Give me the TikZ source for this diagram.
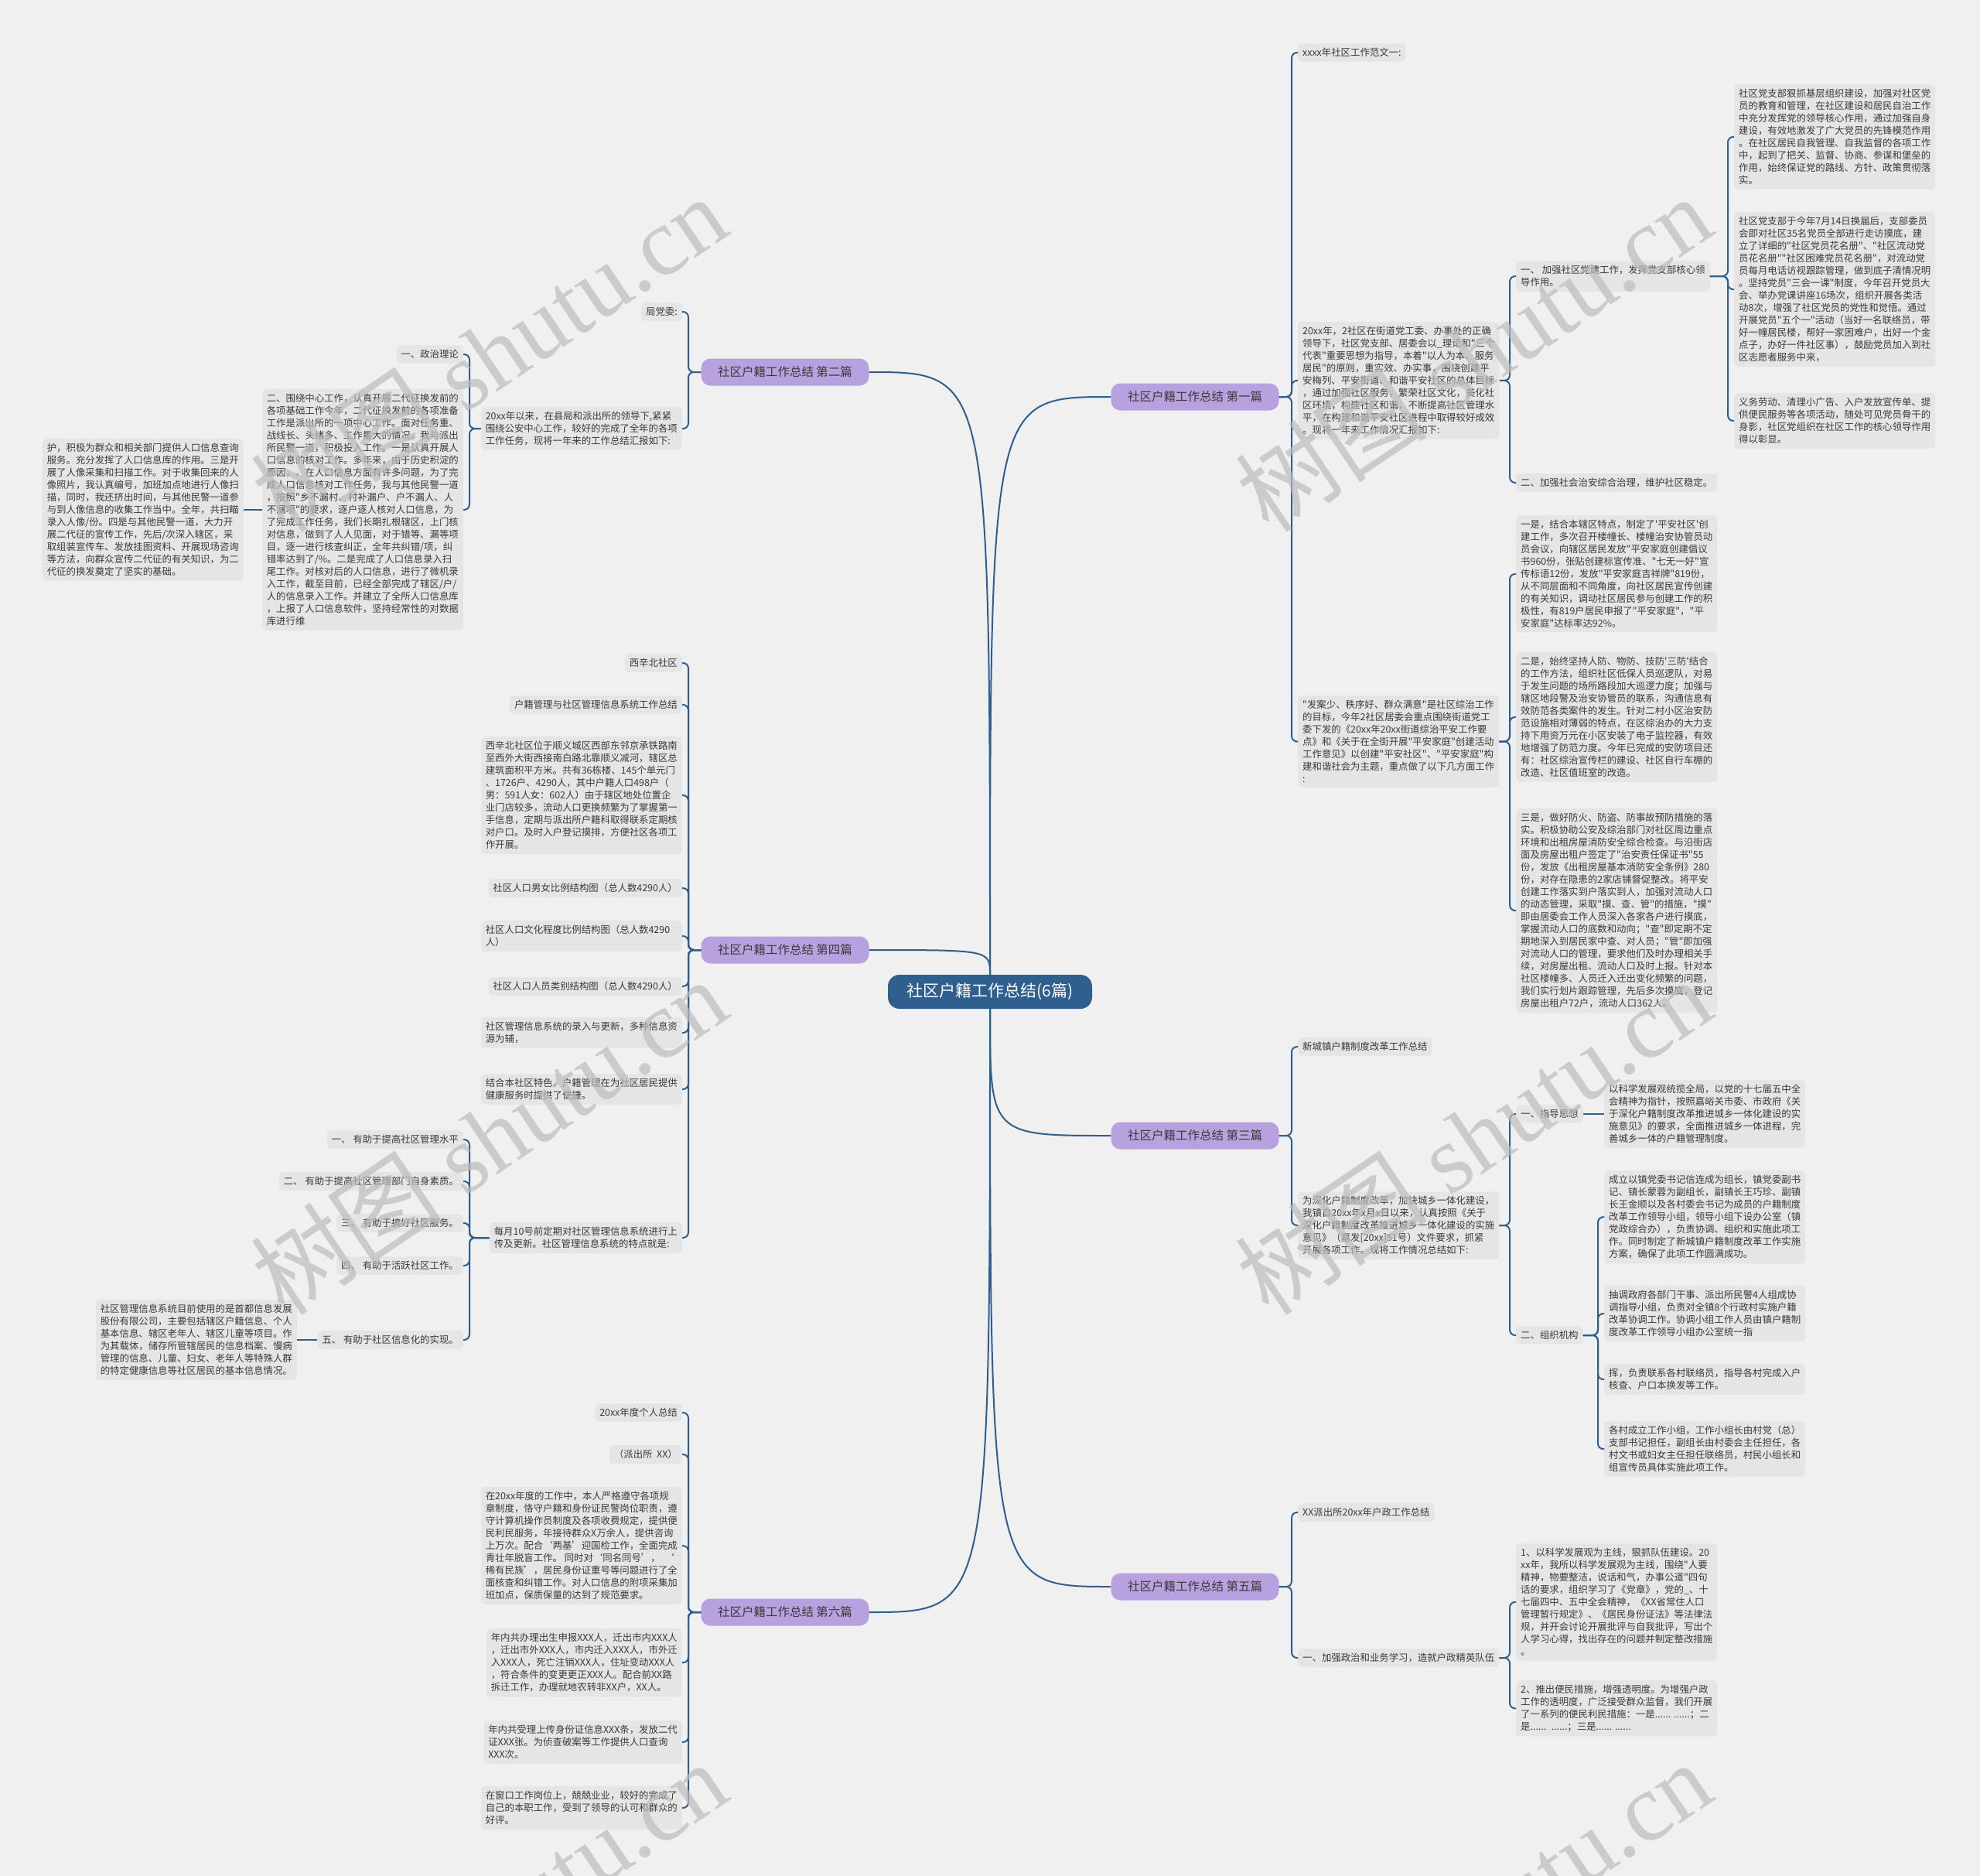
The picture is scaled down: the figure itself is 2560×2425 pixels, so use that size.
\documentclass[tikz,border=0pt]{standalone}
\usepackage{fontspec}
\setmainfont{Noto Sans CJK SC}[Ligatures=TeXOff]
\newfontfamily\wmserif{Liberation Serif}
\usepackage{xcolor}
\usepackage{tikz}
\usetikzlibrary{positioning}
\definecolor{bgcol}{HTML}{F0F0F0}
\definecolor{leafcol}{HTML}{E5E5E5}
\definecolor{rootcol}{HTML}{2F5F8E}
\definecolor{branchcol}{HTML}{B7A1DE}
\definecolor{linecol}{HTML}{2F5F8E}
\definecolor{txtcol}{HTML}{3A3A3A}
\definecolor{wmcol}{HTML}{BCBCBC}

\begin{document}
\begin{tikzpicture}[x=1pt,y=-1pt,
  rootnode/.style={fill=rootcol, text=white, rounded corners=15pt, minimum width=264pt, minimum height=44pt, font=\fontsize{21}{25}\selectfont},
  branch/.style={fill=branchcol, text=txtcol, rounded corners=12pt, minimum width=217pt, minimum height=35pt, font=\fontsize{15.5}{18}\selectfont},
  leaf/.style={fill=leafcol, text=txtcol, rounded corners=5pt, inner xsep=6pt, inner ysep=6pt, align=left, font=\fontsize{12.4}{16}\selectfont},
  link/.style={draw=linecol, line width=2pt, rounded corners=7pt},
  wm/.style={text=wmcol, opacity=0.7, rotate=34, anchor=base west, inner sep=0pt, font=\fontsize{125}{125}\selectfont}]

  \useasboundingbox (0,0) rectangle (2560,2425);
  \fill[bgcol] (0,0) rectangle (2560,2425);

  %% root and branches
  \node[rootnode] (root) at (1280,1282) {社区户籍工作总结(6篇)};
  \node[branch] (p1) at (1545,513) {社区户籍工作总结 第一篇};
  \node[branch] (p2) at (1015,481) {社区户籍工作总结 第二篇};
  \node[branch] (p3) at (1545,1468) {社区户籍工作总结 第三篇};
  \node[branch] (p4) at (1015,1228) {社区户籍工作总结 第四篇};
  \node[branch] (p5) at (1545,2051) {社区户籍工作总结 第五篇};
  \node[branch] (p6) at (1015,2084) {社区户籍工作总结 第六篇};

  \draw[link] (root.north) .. controls (root.north |- p1.west) .. (p1.west);
  \draw[link] (root.north) .. controls (root.north |- p2.east) .. (p2.east);
  \draw[link] (root.north) .. controls (root.north |- p4.east) .. (p4.east);
  \draw[link] (root.south) .. controls (root.south |- p3.west) .. (p3.west);
  \draw[link] (root.south) .. controls (root.south |- p5.west) .. (p5.west);
  \draw[link] (root.south) .. controls (root.south |- p6.east) .. (p6.east);

  %% 第一篇
  \node[leaf, anchor=west] (p1a) at (1678,68) {xxxx年社区工作范文一:};
  \node[leaf, anchor=north west] (p1b) at (1678,416) {20xx年，2社区在街道党工委、办事处的正确\\领导下，社区党支部、居委会以\_理论和"三个\\代表"重要思想为指导，本着"以人为本、服务\\居民"的原则，重实效、办实事，围绕创建平\\安梅列、平安街道、和谐平安社区的总体目标\\，通过加强社区服务，繁荣社区文化，美化社\\区环境，构建社区和谐，不断提高社区管理水\\平，在构建和谐平安社区进程中取得较好成效\\。现将一年来工作情况汇报如下:};
  \node[leaf, anchor=north west] (p1c) at (1678,899) {"发案少、秩序好、群众满意"是社区综治工作\\的目标，今年2社区居委会重点围绕街道党工\\委下发的《20xx年20xx街道综治平安工作要\\点》和《关于在全街开展"平安家庭"创建活动\\工作意见》以创建"平安社区"、"平安家庭"构\\建和谐社会为主题，重点做了以下几方面工作\\:};
  \foreach \c in {p1a,p1b,p1c}
    \draw[link] (p1.east) -| ([xshift=-8pt]\c.west) -- (\c.west);

  \node[leaf, anchor=west] (p1b1) at (1960,357) {一、 加强社区党建工作，发挥党支部核心领\\导作用。};
  \node[leaf, anchor=west] (p1b2) at (1960,624) {二、加强社会治安综合治理，维护社区稳定。};
  \foreach \c in {p1b1,p1b2}
    \draw[link] (p1b.east) -| ([xshift=-8pt]\c.west) -- (\c.west);

  \node[leaf, anchor=north west] (p1b1a) at (2242,109) {社区党支部狠抓基层组织建设，加强对社区党\\员的教育和管理，在社区建设和居民自治工作\\中充分发挥党的领导核心作用，通过加强自身\\建设，有效地激发了广大党员的先锋模范作用\\。在社区居民自我管理、自我监督的各项工作\\中，起到了把关、监督、协商、参谋和堡垒的\\作用，始终保证党的路线、方针、政策贯彻落\\实。};
  \node[leaf, anchor=north west] (p1b1b) at (2242,274) {社区党支部于今年7月14日换届后，支部委员\\会即对社区35名党员全部进行走访摸底，建\\立了详细的"社区党员花名册"、"社区流动党\\员花名册""社区困难党员花名册"，对流动党\\员每月电话访视跟踪管理，做到底子清情况明\\。坚持党员"三会一课"制度，今年召开党员大\\会、举办党课讲座16场次，组织开展各类活\\动8次，增强了社区党员的党性和觉悟。通过\\开展党员"五个一"活动（当好一名联络员，带\\好一幢居民楼，帮好一家困难户，出好一个金\\点子，办好一件社区事），鼓励党员加入到社\\区志愿者服务中来，};
  \node[leaf, anchor=north west] (p1b1c) at (2242,508) {义务劳动、清理小广告、入户发放宣传单、提\\供便民服务等各项活动，随处可见党员骨干的\\身影，社区党组织在社区工作的核心领导作用\\得以彰显。};
  \foreach \c in {p1b1a,p1b1b,p1b1c}
    \draw[link] (p1b1.east) -| ([xshift=-8pt]\c.west) -- (\c.west);

  \node[leaf, anchor=north west] (p1c1) at (1960,666) {一是，结合本辖区特点，制定了'平安社区'创\\建工作，多次召开楼幢长、楼幢治安协管员动\\员会议，向辖区居民发放"平安家庭创建倡议\\书960份，张贴创建标宣传准、"七无一好"宣\\传标语12份，发放"平安家庭吉祥牌"819份，\\从不同层面和不同角度，向社区居民宣传创建\\的有关知识，调动社区居民参与创建工作的积\\极性，有819户居民申报了"平安家庭"，"平\\安家庭"达标率达92\%。};
  \node[leaf, anchor=north west] (p1c2) at (1960,843) {二是，始终坚持人防、物防、技防'三防'结合\\的工作方法，组织社区低保人员巡逻队，对易\\于发生问题的场所路段加大巡逻力度；加强与\\辖区地段警及治安协管员的联系，沟通信息有\\效防范各类案件的发生。针对二村小区治安防\\范设施相对薄弱的特点，在区综治办的大力支\\持下用资万元在小区安装了电子监控器，有效\\地增强了防范力度。今年已完成的安防项目还\\有：社区综治宣传栏的建设、社区自行车棚的\\改造、社区值班室的改造。};
  \node[leaf, anchor=north west] (p1c3) at (1960,1045) {三是，做好防火、防盗、防事故预防措施的落\\实。积极协助公安及综治部门对社区周边重点\\环境和出租房屋消防安全综合检查。与沿街店\\面及房屋出租户签定了"治安责任保证书"55\\份，发放《出租房屋基本消防安全条例》280\\份，对存在隐患的2家店铺督促整改。将平安\\创建工作落实到户落实到人，加强对流动人口\\的动态管理，采取"摸、查、管"的措施，"摸"\\即由居委会工作人员深入各家各户进行摸底，\\掌握流动人口的底数和动向；"查"即定期不定\\期地深入到居民家中查、对人员；"管"即加强\\对流动人口的管理，要求他们及时办理相关手\\续，对房屋出租、流动人口及时上报。针对本\\社区楼幢多、人员迁入迁出变化频繁的问题，\\我们实行划片跟踪管理，先后多次摸底，登记\\房屋出租户72户，流动人口362人。};
  \foreach \c in {p1c1,p1c2,p1c3}
    \draw[link] (p1c.east) -| ([xshift=-8pt]\c.west) -- (\c.west);

  %% 第三篇
  \node[leaf, anchor=west] (p3a) at (1678,1353) {新城镇户籍制度改革工作总结};
  \node[leaf, anchor=west] (p3b) at (1678,1584) {为深化户籍制度改革，加快城乡一体化建设，\\我镇自20xx年x月x日以来，认真按照《关于\\深化户籍制度改革推进城乡一体化建设的实施\\意见》（嘉发[20xx]51号）文件要求，抓紧\\开展各项工作。现将工作情况总结如下:};
  \foreach \c in {p3a,p3b}
    \draw[link] (p3.east) -| ([xshift=-8pt]\c.west) -- (\c.west);

  \node[leaf, anchor=west] (p3b1) at (1960,1440) {一、指导思想};
  \node[leaf, anchor=west] (p3b2) at (1960,1726) {二、组织机构};
  \foreach \c in {p3b1,p3b2}
    \draw[link] (p3b.east) -| ([xshift=-8pt]\c.west) -- (\c.west);

  \node[leaf, anchor=west] (p3b1a) at (2074,1440) {以科学发展观统揽全局，以党的十七届五中全\\会精神为指针，按照嘉峪关市委、市政府《关\\于深化户籍制度改革推进城乡一体化建设的实\\施意见》的要求，全面推进城乡一体进程，完\\善城乡一体的户籍管理制度。};
  \draw[link] (p3b1.east) -- (p3b1a.west);

  \node[leaf, anchor=north west] (p3b2a) at (2074,1513) {成立以镇党委书记信连成为组长，镇党委副书\\记、镇长蒙蓉为副组长，副镇长王巧珍、副镇\\长王金顺以及各村委会书记为成员的户籍制度\\改革工作领导小组，领导小组下设办公室（镇\\党政综合办），负责协调、组织和实施此项工\\作。同时制定了新城镇户籍制度改革工作实施\\方案，确保了此项工作圆满成功。};
  \node[leaf, anchor=north west] (p3b2b) at (2074,1662) {抽调政府各部门干事、派出所民警4人组成协\\调指导小组，负责对全镇8个行政村实施户籍\\改革协调工作。协调小组工作人员由镇户籍制\\度改革工作领导小组办公室统一指};
  \node[leaf, anchor=north west] (p3b2c) at (2074,1763) {挥，负责联系各村联络员，指导各村完成入户\\核查、户口本换发等工作。};
  \node[leaf, anchor=north west] (p3b2d) at (2074,1837) {各村成立工作小组，工作小组长由村党（总）\\支部书记担任，副组长由村委会主任担任，各\\村文书或妇女主任担任联络员，村民小组长和\\组宣传员具体实施此项工作。};
  \foreach \c in {p3b2a,p3b2b,p3b2c,p3b2d}
    \draw[link] (p3b2.east) -| ([xshift=-8pt]\c.west) -- (\c.west);

  %% 第五篇
  \node[leaf, anchor=west] (p5a) at (1678,1955) {XX派出所20xx年户政工作总结};
  \node[leaf, anchor=west] (p5b) at (1678,2143) {一、加强政治和业务学习，造就户政精英队伍};
  \foreach \c in {p5a,p5b}
    \draw[link] (p5.east) -| ([xshift=-8pt]\c.west) -- (\c.west);

  \node[leaf, anchor=north west] (p5b1) at (1960,1995) {1、以科学发展观为主线，狠抓队伍建设。20\\xx年，我所以科学发展观为主线，围绕"人要\\精神，物要整洁，说话和气，办事公道"四句\\话的要求，组织学习了《党章》，党的\_、十\\七届四中、五中全会精神，《XX省常住人口\\管理暂行规定》、《居民身份证法》等法律法\\规，并开会讨论开展批评与自我批评，写出个\\人学习心得，找出存在的问题并制定整改措施\\。};
  \node[leaf, anchor=north west] (p5b2) at (1960,2172) {2、推出便民措施，增强透明度。为增强户政\\工作的透明度，广泛接受群众监督，我们开展\\了一系列的便民利民措施：一是...... ......；二\\是...... \ ......；三是...... ......};
  \foreach \c in {p5b1,p5b2}
    \draw[link] (p5b.east) -| ([xshift=-8pt]\c.west) -- (\c.west);

  %% 第二篇
  \node[leaf, anchor=east] (p2a) at (882,403) {局党委:};
  \node[leaf, anchor=north east] (p2b) at (882,526) {20xx年以来，在县局和派出所的领导下,紧紧\\围绕公安中心工作，较好的完成了全年的各项\\工作任务，现将一年来的工作总结汇报如下:};
  \foreach \c in {p2a,p2b}
    \draw[link] (p2.west) -| ([xshift=8pt]\c.east) -- (\c.east);

  \node[leaf, anchor=east] (p2b1) at (599,458) {一、政治理论};
  \node[leaf, anchor=east] (p2b2) at (599,659) {二、围绕中心工作，认真开展二代征换发前的\\各项基础工作今年，二代征换发前的各项准备\\工作是派出所的一项中心工作。面对任务重、\\战线长、头绪多、工作量大的情况，我与派出\\所民警一道，积极投入工作。一是认真开展人\\口信息的核对工作。多年来，由于历史积淀的\\原因，。在人口信息方面有许多问题，为了完\\成人口信息核对工作任务，我与其他民警一道\\，按照"乡不漏村、村补漏户、户不漏人、人\\不漏项"的要求，逐户逐人核对人口信息，为\\了完成工作任务，我们长期扎根辖区，上门核\\对信息，做到了人人见面，对于错等、漏等项\\目，逐一进行核查纠正，全年共纠错/项，纠\\错率达到了/\%。二是完成了人口信息录入扫\\尾工作。对核对后的人口信息，进行了微机录\\入工作，截至目前，已经全部完成了辖区/户/\\人的信息录入工作。并建立了全所人口信息库\\，上报了人口信息软件，坚持经常性的对数据\\库进行维};
  \foreach \c in {p2b1,p2b2}
    \draw[link] (p2b.west) -| ([xshift=8pt]\c.east) -- (\c.east);

  \node[leaf, anchor=east] (p2b2a) at (315,659) {护，积极为群众和相关部门提供人口信息查询\\服务。充分发挥了人口信息库的作用。三是开\\展了人像采集和扫描工作。对于收集回来的人\\像照片，我认真编号，加班加点地进行人像扫\\描，同时，我还挤出时间，与其他民警一道参\\与到人像信息的收集工作当中。全年，共扫瞄\\录入人像/份。四是与其他民警一道，大力开\\展二代征的宣传工作，先后/次深入辖区，采\\取组装宣传车、发放挂图资料、开展现场咨询\\等方法，向群众宣传二代征的有关知识，为二\\代征的换发奠定了坚实的基础。};
  \draw[link] (p2b2.west) -- (p2b2a.east);

  %% 第四篇
  \node[leaf, anchor=east] (p4a) at (882,857) {西辛北社区};
  \node[leaf, anchor=east] (p4b) at (882,911) {户籍管理与社区管理信息系统工作总结};
  \node[leaf, anchor=north east] (p4c) at (882,952) {西辛北社区位于顺义城区西部东邻京承铁路南\\至西外大街西接南白路北靠顺义减河，辖区总\\建筑面积平方米。共有36栋楼、145个单元门\\、1726户、4290人，其中户籍人口498户（\\男：591人女：602人）由于辖区地处位置企\\业门店较多，流动人口更换频繁为了掌握第一\\手信息，定期与派出所户籍科取得联系定期核\\对户口。及时入户登记摸排，方便社区各项工\\作开展。};
  \node[leaf, anchor=east] (p4d) at (882,1148) {社区人口男女比例结构图（总人数4290人）};
  \node[leaf, anchor=east, text width=248pt] (p4e) at (882,1210) {社区人口文化程度比例结构图（总人数4290\\人）};
  \node[leaf, anchor=east] (p4f) at (882,1275) {社区人口人员类别结构图（总人数4290人）};
  \node[leaf, anchor=east, text width=248pt] (p4g) at (882,1335) {社区管理信息系统的录入与更新，多种信息资\\源为辅，};
  \node[leaf, anchor=east] (p4h) at (882,1408) {结合本社区特色，户籍管理在为社区居民提供\\健康服务时提供了便捷。};
  \node[leaf, anchor=east] (p4i) at (882,1600) {每月10号前定期对社区管理信息系统进行上\\传及更新。社区管理信息系统的特点就是:};
  \foreach \c in {p4a,p4b,p4c,p4d,p4e,p4f,p4g,p4h,p4i}
    \draw[link] (p4.west) -| ([xshift=8pt]\c.east) -- (\c.east);

  \node[leaf, anchor=east] (p4i1) at (599,1473) {一、 有助于提高社区管理水平};
  \node[leaf, anchor=east] (p4i2) at (599,1527) {二、 有助于提高社区管理部门自身素质。};
  \node[leaf, anchor=east] (p4i3) at (599,1581) {三、 有助于搞好社区服务。};
  \node[leaf, anchor=east] (p4i4) at (599,1636) {四、 有助于活跃社区工作。};
  \node[leaf, anchor=east] (p4i5) at (599,1732) {五、 有助于社区信息化的实现。};
  \foreach \c in {p4i1,p4i2,p4i3,p4i4,p4i5}
    \draw[link] (p4i.west) -| ([xshift=8pt]\c.east) -- (\c.east);

  \node[leaf, anchor=east] (p4i5a) at (384,1732) {社区管理信息系统目前使用的是首都信息发展\\股份有限公司，主要包括辖区户籍信息、个人\\基本信息、辖区老年人、辖区儿童等项目。作\\为其载体，储存所管辖居民的信息档案、慢病\\管理的信息、儿童、妇女、老年人等特殊人群\\的特定健康信息等社区居民的基本信息情况。};
  \draw[link] (p4i5.west) -- (p4i5a.east);

  %% 第六篇
  \node[leaf, anchor=east] (p6a) at (882,1826) {20xx年度个人总结};
  \node[leaf, anchor=east] (p6b) at (882,1880) {（派出所\ \ XX）};
  \node[leaf, anchor=north east] (p6c) at (882,1922) {在20xx年度的工作中，本人严格遵守各项规\\章制度，恪守户籍和身份证民警岗位职责，遵\\守计算机操作员制度及各项收费规定，提供便\\民利民服务，年接待群众X万余人，提供咨询\\上万次。配合‘两基’迎国检工作，全面完成\\青壮年脱盲工作。 同时对‘同名同号’，\ \ ‘\\稀有民族’，居民身份证重号等问题进行了全\\面核查和纠错工作。对人口信息的附项采集加\\班加点，保质保量的达到了规范要求。};
  \node[leaf, anchor=north east] (p6d) at (882,2105) {年内共办理出生申报XXX人，迁出市内XXX人\\，迁出市外XXX人，市内迁入XXX人，市外迁\\入XXX人，死亡注销XXX人，住址变动XXX人\\，符合条件的变更更正XXX人。配合前XX路\\拆迁工作，办理就地农转非XX户，XX人。};
  \node[leaf, anchor=north east] (p6e) at (882,2224) {年内共受理上传身份证信息XXX条，发放二代\\证XXX张。为侦查破案等工作提供人口查询\\XXX次。};
  \node[leaf, anchor=north east] (p6f) at (882,2309) {在窗口工作岗位上，兢兢业业，较好的完成了\\自己的本职工作，受到了领导的认可和群众的\\好评。};
  \foreach \c in {p6a,p6b,p6c,p6d,p6e,p6f}
    \draw[link] (p6.west) -| ([xshift=8pt]\c.east) -- (\c.east);

  %% watermark
  \foreach \wx in {368,1641}
    \foreach \wy in {692,1704,2716}
      \node[wm] at (\wx,\wy) {树图\hspace{30pt}{\wmserif shutu.cn}};
\end{tikzpicture}
\end{document}
